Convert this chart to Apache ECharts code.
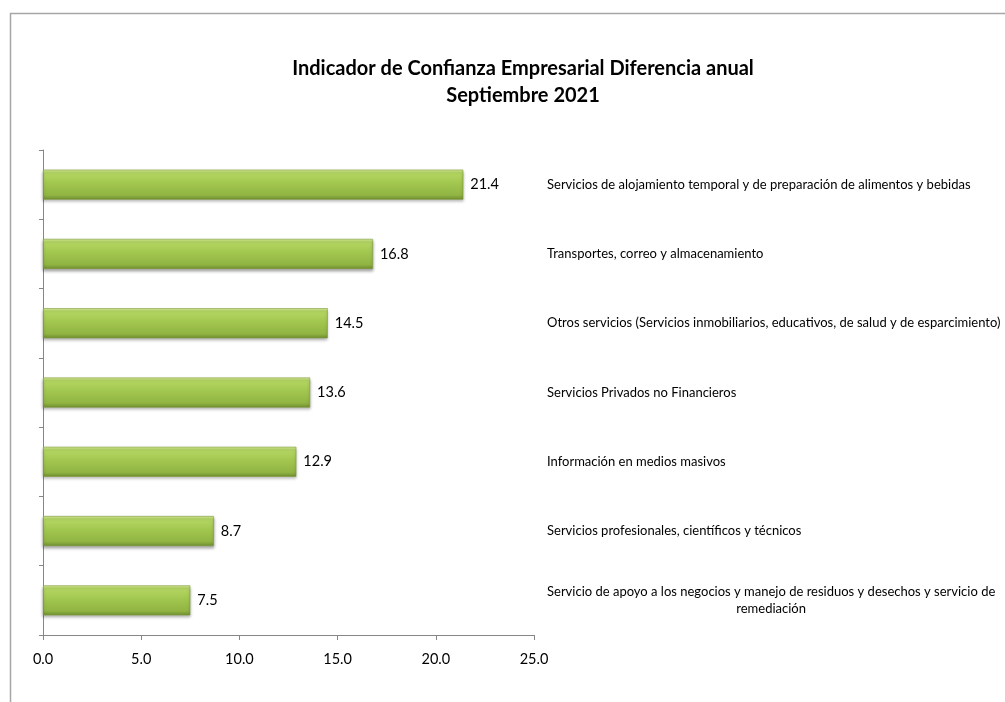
<!DOCTYPE html>
<html>
<head>
<meta charset="utf-8">
<script src="https://cdn.jsdelivr.net/npm/echarts@6/dist/echarts.min.js"></script>
<style>
  html, body { margin: 0; padding: 0; background: #fff; }
  #chart { width: 1005px; height: 702px; }
</style>
</head>
<body>
<div id="chart"></div>
<script>
// Sectors, listed top to bottom
const categories = [
  'Servicios de alojamiento temporal y de preparación de alimentos y bebidas',
  'Transportes, correo y almacenamiento',
  'Otros servicios (Servicios inmobiliarios, educativos, de salud y de esparcimiento)',
  'Servicios Privados no Financieros',
  'Información en medios masivos',
  'Servicios profesionales, científicos y técnicos',
  'Servicio de apoyo a los negocios y manejo de residuos y desechos y servicio de\nremediación'
];
// Annual difference, points
const values = [21.4, 16.8, 14.5, 13.6, 12.9, 8.7, 7.5];
const xTicks = [0, 5, 10, 15, 20, 25];

const FONT = 'Lato, "Open Sans", sans-serif';

const chart = echarts.init(document.getElementById('chart'));

chart.setOption({
  backgroundColor: '#ffffff',
  animation: false,
  title: {
    text: 'Indicador de Confianza Empresarial Diferencia anual\nSeptiembre 2021',
    left: 518,
    top: 50,
    textAlign: 'center',
    textStyle: {
      fontFamily: FONT,
      fontSize: 20,
      fontWeight: 'bold',
      color: '#000',
      lineHeight: 27
    }
  },
  graphic: [{
    type: 'rect',
    silent: true,
    shape: { x: 10.5, y: 13.5, width: 1100, height: 800 },
    style: { fill: 'none', stroke: '#a6a6a6', lineWidth: 1.5 }
  }],
  grid: {
    left: 43, right: 471, top: 150, bottom: 67,
    containLabel: false,
    outerBoundsMode: 'none'
  },
  xAxis: {
    type: 'value',
    min: xTicks[0],
    max: xTicks[xTicks.length - 1],
    interval: xTicks[1] - xTicks[0],
    splitLine: { show: false },
    axisLine: { show: true, lineStyle: { color: '#868686', width: 1 } },
    axisTick: { show: true, length: 5, lineStyle: { color: '#868686' } },
    axisLabel: {
      fontFamily: FONT,
      fontSize: 14.5,
      color: '#000',
      margin: 17,
      formatter: v => v.toFixed(1)
    }
  },
  yAxis: [{
    type: 'category',
    data: categories,
    inverse: true,
    position: 'left',
    axisLine: { show: true, lineStyle: { color: '#868686', width: 1 } },
    axisTick: { show: true, length: 4, lineStyle: { color: '#868686' } },
    axisLabel: { show: false }
  }, {
    type: 'category',
    data: categories,
    inverse: true,
    position: 'right',
    axisLine: { show: false },
    axisTick: { show: false },
    axisLabel: {
      show: true,
      margin: 13,
      align: 'left',
      fontFamily: FONT,
      fontSize: 13,
      color: '#000',
      formatter: function (v) {
        const lines = v.split('\n');
        return lines.map(l => '{c|' + l + '}').join('\n');
      },
      rich: {
        c: { fontFamily: FONT, fontSize: 13, color: '#000', align: 'center', lineHeight: 17 }
      }
    }
  }],
  series: [{
    type: 'bar',
    data: values,
    yAxisIndex: 0,
    barWidth: 30,
    itemStyle: {
      color: new echarts.graphic.LinearGradient(0, 0, 0, 1, [
        { offset: 0, color: '#d9f09c' },
        { offset: 0.1, color: '#b5d764' },
        { offset: 0.45, color: '#a2c74f' },
        { offset: 0.85, color: '#91b443' },
        { offset: 1, color: '#6f8d30' }
      ]),
      borderColor: '#7f9c3a',
      borderWidth: 0.6,
      shadowColor: 'rgba(0,0,0,0.35)',
      shadowBlur: 3,
      shadowOffsetY: 2
    },
    label: {
      show: true,
      position: 'right',
      distance: 7,
      fontFamily: FONT,
      fontSize: 14.5,
      color: '#000',
      formatter: p => p.value.toFixed(1)
    }
  }]
});
</script>
</body>
</html>
